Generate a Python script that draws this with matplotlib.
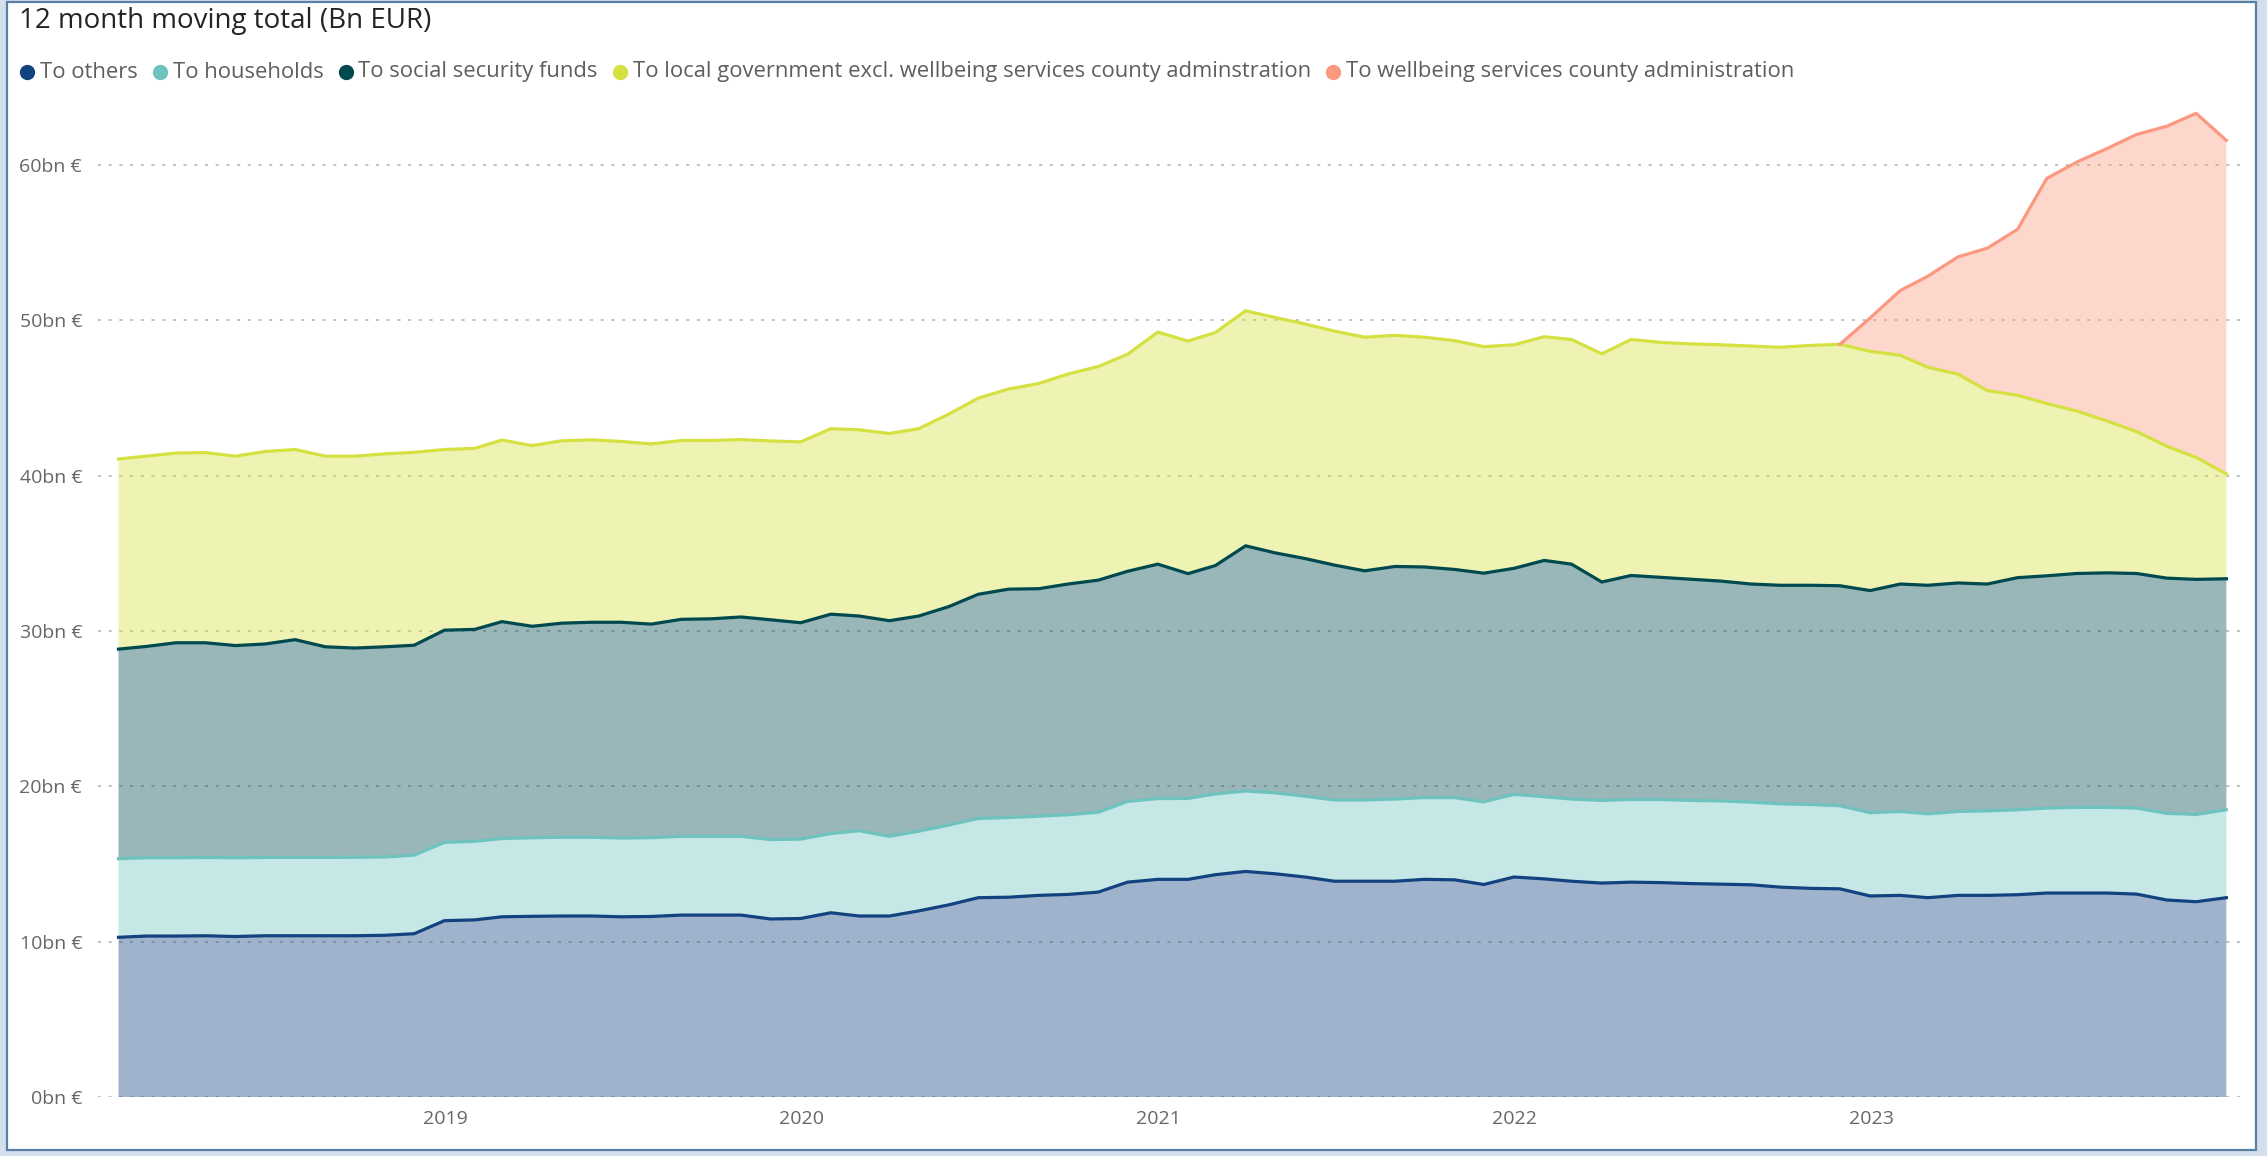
import numpy as np
import pandas as pd
import matplotlib
matplotlib.use('Agg')
import matplotlib.pyplot as plt
from matplotlib.patches import Rectangle
from matplotlib.lines import Line2D

plt.rcParams['font.family'] = ['Open Sans', 'DejaVu Sans']

# Kuukausittaiset havainnot (kuun viimeinen päivä), tammikuu 2018 - joulukuu 2023
kuukaudet = pd.date_range('2018-01-01', '2023-12-01', freq='MS') + pd.offsets.MonthEnd(0)

vuodet = [2019, 2020, 2021, 2022, 2023]
y_ticks = [0, 10, 20, 30, 40, 50, 60]

nimet = ['To others', 'To households', 'To social security funds',
         'To local government excl. wellbeing services county adminstration',
         'To wellbeing services county administration']

# Mrd EUR, 12 kk liukuva summa
to_others = [10.28, 10.36, 10.36, 10.38, 10.33, 10.38, 10.38, 10.38, 10.38, 10.41, 10.51, 11.35,
             11.40, 11.60, 11.63, 11.65, 11.65, 11.60, 11.62, 11.71, 11.71, 11.71, 11.46, 11.49,
             11.86, 11.65, 11.65, 11.98, 12.37, 12.83, 12.86, 12.98, 13.04, 13.19, 13.83, 14.01,
             14.01, 14.31, 14.52, 14.37, 14.16, 13.89, 13.89, 13.89, 14.01, 13.98, 13.68, 14.16,
             14.04, 13.89, 13.77, 13.83, 13.80, 13.74, 13.70, 13.66, 13.51, 13.43, 13.40, 12.94,
             12.98, 12.83, 12.98, 12.98, 13.02, 13.13, 13.13, 13.13, 13.06, 12.68, 12.57, 12.83]

to_households = [5.06, 5.04, 5.04, 5.04, 5.07, 5.04, 5.04, 5.04, 5.05, 5.04, 5.06, 5.04,
                 5.06, 5.04, 5.06, 5.07, 5.07, 5.07, 5.07, 5.07, 5.07, 5.07, 5.11, 5.11,
                 5.10, 5.49, 5.13, 5.13, 5.14, 5.10, 5.13, 5.10, 5.13, 5.14, 5.20, 5.20,
                 5.21, 5.20, 5.18, 5.21, 5.20, 5.23, 5.23, 5.29, 5.26, 5.29, 5.32, 5.32,
                 5.29, 5.29, 5.32, 5.32, 5.35, 5.35, 5.36, 5.32, 5.36, 5.40, 5.35, 5.36,
                 5.40, 5.40, 5.40, 5.44, 5.47, 5.47, 5.51, 5.51, 5.54, 5.58, 5.62, 5.66]

to_social_security = [13.49, 13.60, 13.84, 13.82, 13.66, 13.74, 14.02, 13.56, 13.47, 13.53, 13.51, 13.66,
                      13.64, 13.96, 13.61, 13.78, 13.84, 13.89, 13.75, 13.97, 14.00, 14.12, 14.15, 13.93,
                      14.12, 13.82, 13.88, 13.85, 14.06, 14.43, 14.70, 14.64, 14.85, 14.94, 14.81, 15.09,
                      14.47, 14.70, 15.78, 15.45, 15.30, 15.12, 14.75, 14.97, 14.85, 14.69, 14.72, 14.55,
                      15.21, 15.12, 14.06, 14.42, 14.30, 14.24, 14.15, 14.04, 14.07, 14.11, 14.16, 14.30,
                      14.64, 14.71, 14.71, 14.60, 14.94, 14.95, 15.06, 15.10, 15.10, 15.14, 15.13, 14.87]

to_local_gov = [12.24, 12.25, 12.21, 12.24, 12.19, 12.39, 12.24, 12.27, 12.35, 12.42, 12.42, 11.63,
                11.65, 11.69, 11.63, 11.74, 11.74, 11.64, 11.60, 11.51, 11.48, 11.42, 11.51, 11.64,
                11.94, 11.99, 12.05, 12.06, 12.39, 12.63, 12.88, 13.21, 13.52, 13.75, 13.97, 14.94,
                14.97, 15.00, 15.13, 15.15, 15.10, 15.06, 15.04, 14.88, 14.79, 14.73, 14.58, 14.39,
                14.40, 14.46, 14.69, 15.19, 15.12, 15.15, 15.21, 15.32, 15.32, 15.44, 15.54, 15.40,
                14.72, 14.04, 13.44, 12.45, 11.74, 11.09, 10.45, 9.77, 9.13, 8.49, 7.85, 6.75]

# Hyvinvointialueet: ei arvoja ennen marraskuuta 2022
to_wellbeing = [None] * 58 + [0.0, 2.15, 4.18, 5.85, 7.55, 9.17, 10.68, 14.49,
                              16.04, 17.55, 19.13, 20.60, 22.15, 21.47]

varit = ['#124380', '#6ec3be', '#00494e', '#d5e141', '#fa9980']

W, H = 2267, 1156
fig = plt.figure(figsize=(W / 100, H / 100), dpi=100)
fig.patch.set_facecolor('#d3dfea')
fig.patches.append(Rectangle((7 / W, 1 - 1150 / H), (2256 - 7) / W, (1150 - 2) / H,
                             transform=fig.transFigure, facecolor='white',
                             edgecolor='#5b7ea6', lw=1.6, zorder=-5))

ax = fig.add_axes([98 / W, 1 - 1097 / H, 2143 / W, (1097 - 95) / H])
ax.set_facecolor('none')
ax.set_zorder(2)

hyv = np.array([np.nan if v is None else v for v in to_wellbeing], dtype=float)
sarjat = [np.array(to_others), np.array(to_households), np.array(to_social_security),
          np.array(to_local_gov), np.nan_to_num(hyv)]

ax.stackplot(kuukaudet, *sarjat, colors=varit, alpha=0.4, lw=0, zorder=2)

kertyma = np.cumsum(np.vstack(sarjat), axis=0)
for i, (huippu, c) in enumerate(zip(kertyma, varit)):
    if i == 4:
        huippu = np.where(np.isnan(hyv), np.nan, huippu)
    ax.plot(kuukaudet, huippu, color=c, lw=2.3, zorder=3, solid_joinstyle='round')

ax.set_ylim(0, 64.5)
ax.set_xlim(kuukaudet[0] - pd.Timedelta(days=21), kuukaudet[-1] + pd.Timedelta(days=15))

ax.set_yticks(y_ticks)
ax.set_yticklabels([f'{v}bn €' for v in y_ticks])
ax.set_xticks([pd.Timestamp(f'{v}-01-01') for v in vuodet])
ax.set_xticklabels([str(v) for v in vuodet])
ax.tick_params(axis='both', length=0, labelsize=14, labelcolor='#666666')
ax.tick_params(axis='y', pad=11.5)
ax.tick_params(axis='x', pad=9)

ax.yaxis.grid(True, color='#b0b0b0', linestyle=(0, (2, 5)), lw=1.1, zorder=1)
ax.xaxis.grid(False)
ax.set_axisbelow(True)
for s in ax.spines.values():
    s.set_visible(False)

fig.text(19 / W, 1 - 21 / H, '12 month moving total (Bn EUR)', ha='left', va='center',
         fontsize=20, color='#252423')

# Selite käsin, jotta väli vastaa alkuperäistä
renderer = fig.canvas.get_renderer()
x = 20
y = 1 - 72 / H
for nimi, c in zip(nimet, varit):
    fig.add_artist(Line2D([(x + 7) / W], [y], marker='o', ms=10, color=c, lw=0,
                          transform=fig.transFigure))
    t = fig.text((x + 20) / W, y, nimi, ha='left', va='center', fontsize=15.8, color='#605e5c')
    bb = t.get_window_extent(renderer)
    x = bb.x1 + 15

fig.savefig('out.png', dpi=100, facecolor=fig.get_facecolor())
